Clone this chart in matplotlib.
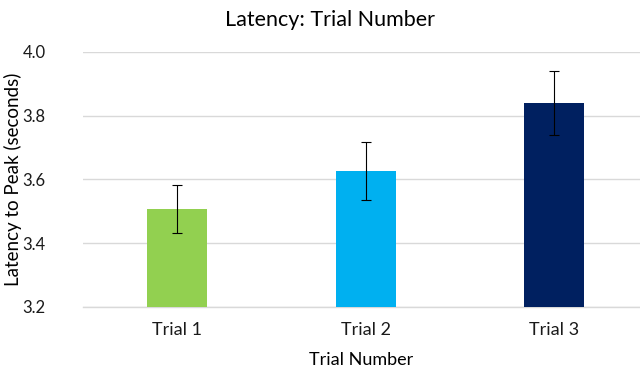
import matplotlib.pyplot as plt

trials = ["Trial 1", "Trial 2", "Trial 3"]
latency = [3.507, 3.626, 3.840]
err = [0.075, 0.09, 0.10]
colors = ["#92D050", "#00B0F0", "#002060"]

plt.rcParams['font.family'] = ['Lato', 'DejaVu Sans']

fig = plt.figure(figsize=(6.4, 3.68), dpi=100)
ax = fig.add_axes([0.1297, 0.1666, 0.8703, 0.6921])

x = range(len(trials))
ax.bar(x, latency, width=0.32, color=colors, zorder=3)
ax.errorbar(x, latency, yerr=err, fmt='none', ecolor='black', elinewidth=0.8,
            capsize=3.6, capthick=0.8, zorder=4)

ax.set_ylim(3.2, 4.0)
ax.set_yticks([3.2, 3.4, 3.6, 3.8, 4.0])
ax.set_yticklabels(["3.2", "3.4", "3.6", "3.8", "4.0"])
ax.set_xlim(-0.5, 2.455)
ax.set_xticks(list(x))
ax.set_xticklabels(trials)

ax.grid(axis='y', color='#D9D9D9', linewidth=1, zorder=0)
for s in ['top', 'right', 'left']:
    ax.spines[s].set_visible(False)
ax.spines['bottom'].set_color('#D9D9D9')
ax.spines['bottom'].set_linewidth(1)
ax.tick_params(axis='x', length=0, labelsize=13, colors='#1a1a1a', pad=11)
ax.tick_params(axis='y', length=0, labelsize=12, colors='#1a1a1a', pad=27)

ax.set_xlabel("Trial Number", fontsize=13, labelpad=10)
ax.set_ylabel("Latency to Peak (seconds)", fontsize=13.5)
ax.yaxis.set_label_coords(-0.11, 0.5)
fig.text(0.515, 0.945, "Latency: Trial Number", ha='center', va='center', fontsize=15.5)

fig.savefig("out.png", dpi=100)
